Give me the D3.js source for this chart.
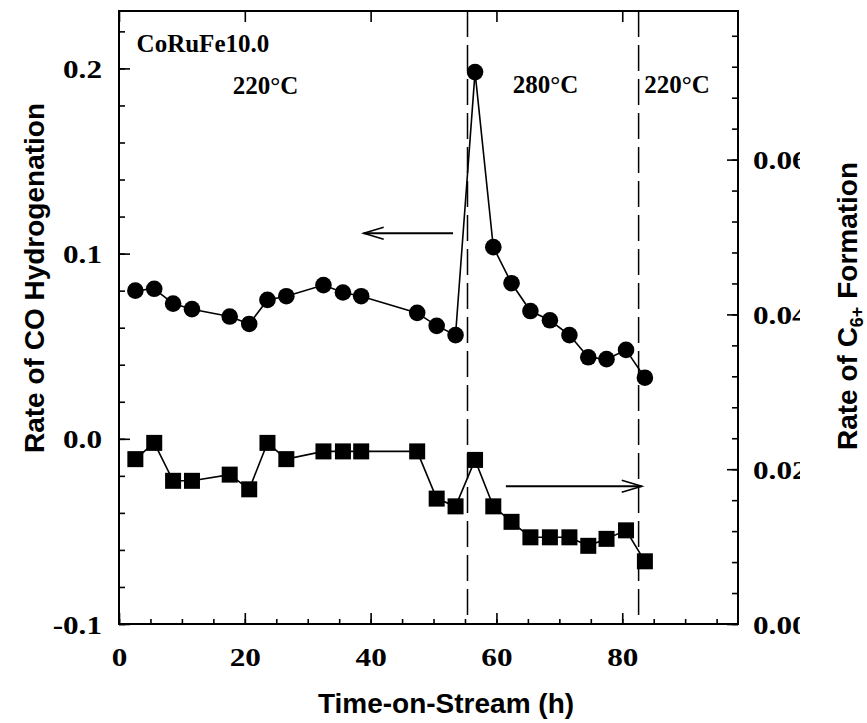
<!DOCTYPE html>
<html>
<head>
<meta charset="utf-8">
<script src="https://cdn.jsdelivr.net/npm/d3@7/dist/d3.min.js"></script>
<style>
  body { margin: 0; background: #fff; }
  svg { display: block; }
  .tick text { font-family: "Liberation Serif", "Times New Roman", serif; font-weight: bold; font-size: 26px; fill: #000; }
  .tick line { stroke: #000; stroke-width: 1.6; }
  .serif { font-family: "Liberation Serif", "Times New Roman", serif; font-weight: bold; font-size: 25px; }
  .title { font-family: "Liberation Sans", Arial, sans-serif; font-weight: bold; font-size: 28px; }
</style>
</head>
<body>
<div id="vis"></div>
<script>

// time on stream (h), shared by both series
var hours = [2.6, 5.6, 8.6, 11.6, 17.6, 20.7, 23.6, 26.6, 32.5, 35.6, 38.5, 47.4,
             50.5, 53.5, 56.6, 59.5, 62.4, 65.4, 68.5, 71.6, 74.6, 77.5, 80.6, 83.6];

// rate of CO hydrogenation (left axis, circles)
var coRate = [0.080, 0.081, 0.073, 0.070, 0.066, 0.062, 0.075, 0.077, 0.083, 0.079, 0.077, 0.068,
              0.061, 0.056, 0.198, 0.1035, 0.084, 0.069, 0.064, 0.056, 0.044, 0.043, 0.048, 0.033];

// rate of C6+ formation (right axis, squares)
var c6Rate = [0.0213, 0.0234, 0.0185, 0.0185, 0.0193, 0.0174, 0.0234, 0.0213, 0.0223, 0.0223, 0.0223, 0.0223,
              0.0162, 0.0152, 0.0212, 0.0152, 0.0132, 0.0112, 0.0112, 0.0112, 0.0101, 0.0110, 0.0121, 0.0081];

var xTicks = [0, 20, 40, 60, 80];
var leftTicks = [-0.1, 0.0, 0.1, 0.2];
var rightTicks = [0.00, 0.02, 0.04, 0.06];
var switchTimes = [55.4, 82.6];
var sampleName = "CoRuFe10.0";
var tempLabels = ["220°C", "280°C", "220°C"];

var width = 867, height = 723;
var plot = {left: 119, right: 738, top: 11, bottom: 624};
var stretch = 1.2; // the scanned tick numbers are wide

var x = d3.scaleLinear().domain([0, 98.4]).range([plot.left, plot.right]);
var yL = d3.scaleLinear().domain([-0.1, 0.231]).range([plot.bottom, plot.top]);
var yR = d3.scaleLinear().domain([0, 0.0792]).range([plot.bottom, plot.top]);

function hyphen(fmt) {
    return function(d) { return d3.format(fmt)(d).replace("\u2212", "-"); };
}

var svg = d3.select("#vis").append("svg")
    .attr("width", width)
    .attr("height", height);

// right labels are cut by the page edge in the original (clip is in the label's own scaled space)
svg.append("defs").append("clipPath")
    .attr("id", "rclip")
  .append("rect")
    .attr("x", -20).attr("y", -40)
    .attr("width", 20 + 62 / stretch).attr("height", 80);

// minor ticks first
svg.append("g")
    .attr("transform", "translate(0," + plot.bottom + ")")
    .call(d3.axisBottom(x).tickValues(d3.range(0, 98, 5)).tickSize(-5).tickFormat(""));
svg.append("g")
    .attr("transform", "translate(" + plot.left + ",0)")
    .call(d3.axisLeft(yL).tickValues(d3.range(-0.1, 0.231, 0.02)).tickSize(-6).tickFormat(""));
svg.append("g")
    .attr("transform", "translate(" + plot.right + ",0)")
    .call(d3.axisRight(yR).tickValues(d3.range(0, 0.079, 0.004)).tickSize(-6).tickFormat(""));

// major ticks
var xAxisG = svg.append("g")
    .attr("transform", "translate(0," + plot.bottom + ")")
    .call(d3.axisBottom(x).tickValues(xTicks).tickSize(-11).tickPadding(24).tickFormat(d3.format("d")));
svg.append("g")
    .attr("transform", "translate(0," + plot.top + ")")
    .call(d3.axisTop(x).tickValues(xTicks).tickSize(-11).tickFormat(""));
var yLG = svg.append("g")
    .attr("transform", "translate(" + plot.left + ",0)")
    .call(d3.axisLeft(yL).tickValues(leftTicks).tickSize(-11).tickPadding(17).tickFormat(hyphen(".1f")));
var yRG = svg.append("g")
    .attr("transform", "translate(" + plot.right + ",0)")
    .call(d3.axisRight(yR).tickValues(rightTicks).tickSize(-11).tickPadding(15).tickFormat(d3.format(".2f")));

svg.selectAll(".domain").remove();

xAxisG.selectAll(".tick text")
    .attr("transform", "scale(" + stretch + ",1)");
yLG.selectAll(".tick text")
    .attr("dy", null).attr("dominant-baseline", "central")
    .attr("x", -17 / stretch)
    .attr("transform", "scale(" + stretch + ",1)");
yRG.selectAll(".tick text")
    .attr("dy", null).attr("dominant-baseline", "central")
    .attr("x", 15 / stretch)
    .attr("transform", "scale(" + stretch + ",1)")
    .attr("clip-path", "url(#rclip)");

// frame
svg.append("rect")
    .attr("x", plot.left).attr("y", plot.top)
    .attr("width", plot.right - plot.left).attr("height", plot.bottom - plot.top)
    .attr("fill", "none").attr("stroke", "#000").attr("stroke-width", 2);

// temperature switch lines
svg.selectAll(".switch")
    .data(switchTimes)
    .enter().append("line")
    .attr("class", "switch")
    .attr("x1", function(d) { return x(d); })
    .attr("x2", function(d) { return x(d); })
    .attr("y1", plot.top).attr("y2", plot.bottom)
    .attr("stroke", "#000").attr("stroke-width", 1.5)
    .attr("stroke-dasharray", "26,8");

var co = hours.map(function(h, i) { return {t: h, v: coRate[i]}; });
var c6 = hours.map(function(h, i) { return {t: h, v: c6Rate[i]}; });

svg.append("path")
    .datum(co)
    .attr("fill", "none").attr("stroke", "#000").attr("stroke-width", 1.6)
    .attr("d", d3.line().x(function(d) { return x(d.t); }).y(function(d) { return yL(d.v); }));

svg.append("path")
    .datum(c6)
    .attr("fill", "none").attr("stroke", "#000").attr("stroke-width", 1.6)
    .attr("d", d3.line().x(function(d) { return x(d.t); }).y(function(d) { return yR(d.v); }));

svg.selectAll(".dot")
    .data(co)
    .enter().append("circle")
    .attr("class", "dot")
    .attr("cx", function(d) { return x(d.t); })
    .attr("cy", function(d) { return yL(d.v); })
    .attr("r", 8.3)
    .attr("fill", "#000");

svg.selectAll(".sq")
    .data(c6)
    .enter().append("rect")
    .attr("class", "sq")
    .attr("x", function(d) { return x(d.t) - 8; })
    .attr("y", function(d) { return yR(d.v) - 8; })
    .attr("width", 16).attr("height", 16)
    .attr("fill", "#000");

// arrows pointing at the axis each series belongs to
function arrow(x1, x2, yy) {
    var dir = x2 < x1 ? 1 : -1;
    svg.append("line")
        .attr("x1", x1).attr("x2", x2).attr("y1", yy).attr("y2", yy)
        .attr("stroke", "#000").attr("stroke-width", 1.8);
    svg.append("path")
        .attr("d", "M" + (x2 + dir * 20) + "," + (yy - 6) + "L" + x2 + "," + yy + "L" + (x2 + dir * 20) + "," + (yy + 6))
        .attr("fill", "none").attr("stroke", "#000").attr("stroke-width", 1.6);
}
arrow(x(53.1), x(38.9), yL(0.111));
arrow(x(61.5), x(83.1), yR(0.0178));

// annotations
svg.append("text").attr("class", "serif")
    .attr("x", x(2.8)).attr("y", 52)
    .text(sampleName);
svg.append("text").attr("class", "serif")
    .attr("x", x(18.1)).attr("y", 94)
    .text(tempLabels[0]);
svg.append("text").attr("class", "serif")
    .attr("x", x(62.6)).attr("y", 93)
    .text(tempLabels[1]);
svg.append("text").attr("class", "serif")
    .attr("x", x(83.5)).attr("y", 93)
    .text(tempLabels[2]);

// axis titles
svg.append("text").attr("class", "title")
    .attr("x", 446).attr("y", 713)
    .attr("text-anchor", "middle")
    .text("Time-on-Stream (h)");

svg.append("text").attr("class", "title")
    .attr("transform", "translate(44,278) rotate(-90)")
    .attr("text-anchor", "middle")
    .text("Rate of CO Hydrogenation");

var rt = svg.append("text").attr("class", "title")
    .attr("transform", "translate(857,306) rotate(-90)")
    .attr("text-anchor", "middle");
rt.append("tspan").text("Rate of C");
rt.append("tspan").attr("font-size", "18px").attr("dy", 6).text("6+");
rt.append("tspan").attr("dy", -6).text(" Formation");

</script>
</body>
</html>
